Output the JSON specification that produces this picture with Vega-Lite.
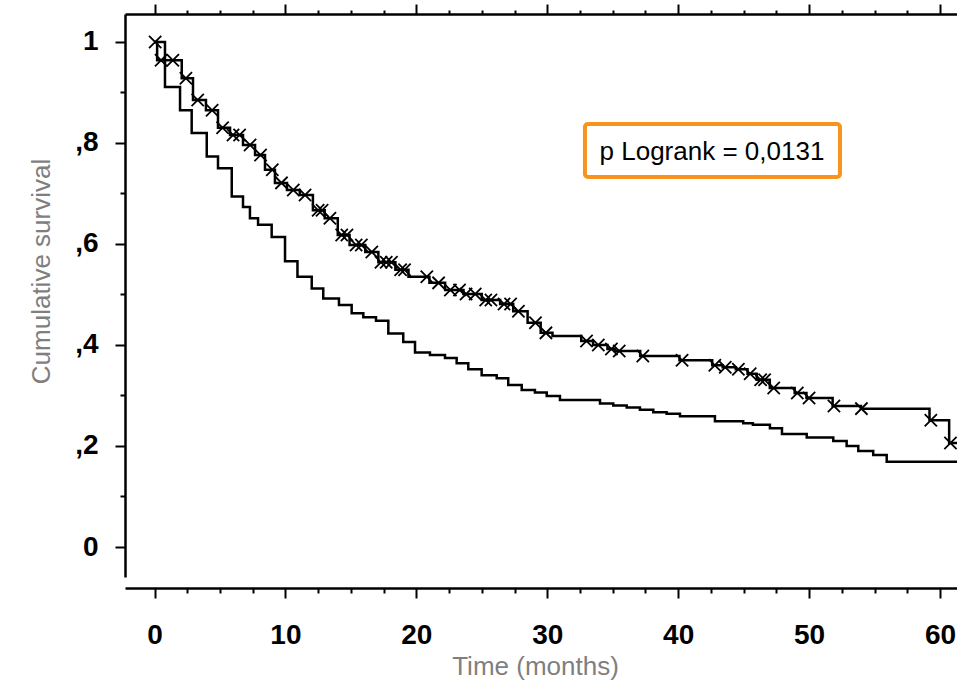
{
  "$schema": "https://vega.github.io/schema/vega-lite/v6.json",
  "width": 832,
  "height": 563,
  "autosize": {"type": "none"},
  "padding": {"left": 125, "top": 14, "right": 0, "bottom": 105},
  "background": "white",
  "config": {"view": {"stroke": null}},
  "datasets": {
    "curves": [
      {"g": "upper", "t": 0, "s": 1.0},
      {"g": "upper", "t": 0.2, "s": 0.964},
      {"g": "upper", "t": 2.08, "s": 0.928},
      {"g": "upper", "t": 2.94, "s": 0.885},
      {"g": "upper", "t": 3.93, "s": 0.865},
      {"g": "upper", "t": 4.85, "s": 0.83},
      {"g": "upper", "t": 5.77, "s": 0.816},
      {"g": "upper", "t": 6.76, "s": 0.796},
      {"g": "upper", "t": 7.68, "s": 0.776},
      {"g": "upper", "t": 8.44, "s": 0.747},
      {"g": "upper", "t": 9.2, "s": 0.721},
      {"g": "upper", "t": 10.12, "s": 0.707},
      {"g": "upper", "t": 11.1, "s": 0.697},
      {"g": "upper", "t": 12.1, "s": 0.667},
      {"g": "upper", "t": 13.0, "s": 0.651},
      {"g": "upper", "t": 14.0, "s": 0.618},
      {"g": "upper", "t": 14.9, "s": 0.598},
      {"g": "upper", "t": 16.1, "s": 0.584},
      {"g": "upper", "t": 17.1, "s": 0.564},
      {"g": "upper", "t": 18.4, "s": 0.549},
      {"g": "upper", "t": 19.4, "s": 0.535},
      {"g": "upper", "t": 21.0, "s": 0.523},
      {"g": "upper", "t": 22.2, "s": 0.509},
      {"g": "upper", "t": 23.6, "s": 0.501},
      {"g": "upper", "t": 25.0, "s": 0.489},
      {"g": "upper", "t": 26.4, "s": 0.481},
      {"g": "upper", "t": 27.4, "s": 0.467},
      {"g": "upper", "t": 28.5, "s": 0.444},
      {"g": "upper", "t": 29.5, "s": 0.424},
      {"g": "upper", "t": 30.4, "s": 0.418},
      {"g": "upper", "t": 32.6, "s": 0.408},
      {"g": "upper", "t": 33.5, "s": 0.4},
      {"g": "upper", "t": 34.6, "s": 0.392},
      {"g": "upper", "t": 35.2, "s": 0.388},
      {"g": "upper", "t": 37.1, "s": 0.378},
      {"g": "upper", "t": 40.1, "s": 0.37},
      {"g": "upper", "t": 42.6, "s": 0.36},
      {"g": "upper", "t": 43.4, "s": 0.356},
      {"g": "upper", "t": 44.4, "s": 0.352},
      {"g": "upper", "t": 45.3, "s": 0.343},
      {"g": "upper", "t": 46.0, "s": 0.331},
      {"g": "upper", "t": 47.0, "s": 0.315},
      {"g": "upper", "t": 48.9, "s": 0.305},
      {"g": "upper", "t": 49.8, "s": 0.295},
      {"g": "upper", "t": 51.8, "s": 0.279},
      {"g": "upper", "t": 53.96, "s": 0.274},
      {"g": "upper", "t": 59.2, "s": 0.251},
      {"g": "upper", "t": 60.7, "s": 0.206},
      {"g": "upper", "t": 61.6, "s": 0.206},
      {"g": "lower", "t": 0, "s": 1.0},
      {"g": "lower", "t": 0.8, "s": 0.911},
      {"g": "lower", "t": 1.95, "s": 0.865},
      {"g": "lower", "t": 2.84, "s": 0.82},
      {"g": "lower", "t": 3.99, "s": 0.773},
      {"g": "lower", "t": 4.85, "s": 0.75},
      {"g": "lower", "t": 5.9, "s": 0.694},
      {"g": "lower", "t": 6.76, "s": 0.673},
      {"g": "lower", "t": 7.29, "s": 0.651},
      {"g": "lower", "t": 7.91, "s": 0.638},
      {"g": "lower", "t": 8.95, "s": 0.614},
      {"g": "lower", "t": 9.97, "s": 0.566},
      {"g": "lower", "t": 10.92, "s": 0.535},
      {"g": "lower", "t": 12.01, "s": 0.512},
      {"g": "lower", "t": 12.89, "s": 0.492},
      {"g": "lower", "t": 14.09, "s": 0.479},
      {"g": "lower", "t": 15.06, "s": 0.463},
      {"g": "lower", "t": 15.95, "s": 0.455},
      {"g": "lower", "t": 16.92, "s": 0.448},
      {"g": "lower", "t": 17.86, "s": 0.423},
      {"g": "lower", "t": 19.0, "s": 0.406},
      {"g": "lower", "t": 19.9, "s": 0.385},
      {"g": "lower", "t": 21.04, "s": 0.38},
      {"g": "lower", "t": 22.19, "s": 0.374},
      {"g": "lower", "t": 23.08, "s": 0.364},
      {"g": "lower", "t": 23.97, "s": 0.352},
      {"g": "lower", "t": 24.99, "s": 0.34},
      {"g": "lower", "t": 26.14, "s": 0.334},
      {"g": "lower", "t": 27.02, "s": 0.321},
      {"g": "lower", "t": 28.05, "s": 0.311},
      {"g": "lower", "t": 29.06, "s": 0.306},
      {"g": "lower", "t": 29.96, "s": 0.299},
      {"g": "lower", "t": 30.97, "s": 0.291},
      {"g": "lower", "t": 34.03, "s": 0.284},
      {"g": "lower", "t": 35.04, "s": 0.28},
      {"g": "lower", "t": 36.07, "s": 0.276},
      {"g": "lower", "t": 37.08, "s": 0.272},
      {"g": "lower", "t": 38.1, "s": 0.267},
      {"g": "lower", "t": 39.12, "s": 0.264},
      {"g": "lower", "t": 40.14, "s": 0.259},
      {"g": "lower", "t": 42.81, "s": 0.249},
      {"g": "lower", "t": 44.97, "s": 0.245},
      {"g": "lower", "t": 45.71, "s": 0.242},
      {"g": "lower", "t": 47.01, "s": 0.235},
      {"g": "lower", "t": 47.93, "s": 0.224},
      {"g": "lower", "t": 49.82, "s": 0.217},
      {"g": "lower", "t": 51.85, "s": 0.21},
      {"g": "lower", "t": 52.87, "s": 0.2},
      {"g": "lower", "t": 53.76, "s": 0.19},
      {"g": "lower", "t": 54.9, "s": 0.182},
      {"g": "lower", "t": 55.93, "s": 0.169},
      {"g": "lower", "t": 61.6, "s": 0.169}
    ],
    "censors": [
      {"t": 0.05, "s": 1.0}, {"t": 0.5, "s": 0.964}, {"t": 1.4, "s": 0.964},
      {"t": 2.4, "s": 0.928}, {"t": 3.3, "s": 0.885}, {"t": 4.4, "s": 0.865},
      {"t": 5.2, "s": 0.83}, {"t": 6.0, "s": 0.816}, {"t": 6.5, "s": 0.816},
      {"t": 7.3, "s": 0.796}, {"t": 8.1, "s": 0.776}, {"t": 9.0, "s": 0.747},
      {"t": 9.7, "s": 0.721}, {"t": 10.6, "s": 0.707}, {"t": 11.5, "s": 0.697},
      {"t": 12.5, "s": 0.667}, {"t": 12.8, "s": 0.667}, {"t": 13.4, "s": 0.651},
      {"t": 14.3, "s": 0.618}, {"t": 14.7, "s": 0.618}, {"t": 15.4, "s": 0.598},
      {"t": 15.8, "s": 0.598}, {"t": 16.6, "s": 0.584}, {"t": 17.3, "s": 0.564},
      {"t": 17.7, "s": 0.564}, {"t": 18.1, "s": 0.564}, {"t": 18.8, "s": 0.549},
      {"t": 19.1, "s": 0.549}, {"t": 20.8, "s": 0.535}, {"t": 21.7, "s": 0.523},
      {"t": 22.6, "s": 0.509}, {"t": 23.3, "s": 0.509}, {"t": 23.8, "s": 0.501},
      {"t": 24.5, "s": 0.501}, {"t": 25.3, "s": 0.489}, {"t": 25.7, "s": 0.489},
      {"t": 26.7, "s": 0.481}, {"t": 27.2, "s": 0.481}, {"t": 27.8, "s": 0.467},
      {"t": 29.1, "s": 0.444}, {"t": 29.9, "s": 0.424}, {"t": 33.0, "s": 0.408},
      {"t": 33.9, "s": 0.4}, {"t": 34.9, "s": 0.392}, {"t": 35.5, "s": 0.388},
      {"t": 37.3, "s": 0.378}, {"t": 40.3, "s": 0.37}, {"t": 42.8, "s": 0.36},
      {"t": 43.6, "s": 0.356}, {"t": 44.6, "s": 0.352}, {"t": 45.5, "s": 0.343},
      {"t": 46.3, "s": 0.331}, {"t": 46.6, "s": 0.331}, {"t": 47.3, "s": 0.315},
      {"t": 49.1, "s": 0.305}, {"t": 50.0, "s": 0.295}, {"t": 51.9, "s": 0.279},
      {"t": 54.0, "s": 0.274}, {"t": 59.3, "s": 0.251}, {"t": 60.8, "s": 0.206}
    ]
  },
  "layer": [
    {
      "data": {"name": "curves"},
      "mark": {"type": "line", "interpolate": "step-after", "color": "black", "strokeWidth": 2.5, "clip": true},
      "encoding": {
        "x": {
          "field": "t", "type": "quantitative",
          "scale": {"domain": [-2.254, 61.3], "nice": false, "zero": false},
          "axis": {
            "orient": "bottom", "offset": 11,
            "values": [0, 2.5, 5, 7.5, 10, 12.5, 15, 17.5, 20, 22.5, 25, 27.5, 30, 32.5, 35, 37.5, 40, 42.5, 45, 47.5, 50, 52.5, 55, 57.5, 60],
            "labelExpr": "datum.value % 10 === 0 ? datum.label : ''",
            "labelOverlap": false, "labelFlush": false,
            "labelFont": "Liberation Sans", "labelFontWeight": "bold", "labelFontSize": 28, "labelColor": "black",
            "labelPadding": 23,
            "tickColor": "black", "tickWidth": 2,
            "tickSize": {"condition": {"test": "datum.value % 10 === 0", "value": 10}, "value": 5},
            "domainColor": "black", "domainWidth": 2.5, "grid": false,
            "title": "Time (months)", "titleFont": "Liberation Sans", "titleFontSize": 26, "titleFontWeight": "normal",
            "titleColor": "#7f7f7f", "titleX": 410, "titleY": 65, "titleAlign": "center", "titleBaseline": "top"
          }
        },
        "y": {
          "field": "s", "type": "quantitative",
          "scale": {"domain": [-0.0594, 1.0554], "nice": false, "zero": false},
          "axis": {
            "orient": "left",
            "values": [0, 0.1, 0.2, 0.3, 0.4, 0.5, 0.6, 0.7, 0.8, 0.9, 1],
            "labelExpr": "abs(datum.value - 1) < 0.001 ? '1' : (abs(datum.value) < 0.001 ? '0' : (round(datum.value * 10) % 2 === 0 ? ',' + round(datum.value * 10) : ''))",
            "labelOverlap": false, "labelFlush": false,
            "labelFont": "Liberation Sans", "labelFontWeight": "bold", "labelFontSize": 28, "labelColor": "black",
            "labelPadding": 17,
            "tickColor": "black", "tickWidth": 2,
            "tickSize": {"condition": {"test": "round(datum.value * 10) % 2 === 0", "value": 10}, "value": 5},
            "domainColor": "black", "domainWidth": 2.5, "grid": false,
            "title": "Cumulative survival", "titleFont": "Liberation Sans", "titleFontSize": 26, "titleFontWeight": "normal",
            "titleColor": "#7f7f7f", "titleAngle": -90, "titleX": -76, "titleY": 257, "titleAlign": "center", "titleBaseline": "alphabetic"
          }
        },
        "detail": {"field": "g", "type": "nominal"}
      }
    },
    {
      "data": {"name": "censors"},
      "mark": {"type": "point", "shape": "M-1,-1L1,1M-1,1L1,-1", "filled": false, "color": "black", "strokeWidth": 1.8, "size": 150, "opacity": 1, "clip": true},
      "encoding": {
        "x": {
          "field": "t", "type": "quantitative",
          "axis": {
            "orient": "top",
            "values": [0, 2.5, 5, 7.5, 10, 12.5, 15, 17.5, 20, 22.5, 25, 27.5, 30, 32.5, 35, 37.5, 40, 42.5, 45, 47.5, 50, 52.5, 55, 57.5, 60],
            "labels": false,
            "tickColor": "black", "tickWidth": 2,
            "tickSize": {"condition": {"test": "datum.value % 10 === 0", "value": 10}, "value": 4},
            "domainColor": "black", "domainWidth": 2.5, "grid": false, "title": null
          }
        },
        "y": {"field": "s", "type": "quantitative", "axis": null}
      }
    },
    {
      "data": {"values": [{"label": "p Logrank = 0,0131"}]},
      "mark": {"type": "rect", "fill": "white", "stroke": "#F7941D", "strokeWidth": 4, "cornerRadius": 3},
      "encoding": {
        "x": {"datum": 32.88, "type": "quantitative", "axis": null},
        "x2": {"datum": 52.36},
        "y": {"datum": 0.8376, "type": "quantitative", "axis": null},
        "y2": {"datum": 0.7327}
      }
    },
    {
      "data": {"values": [{"label": "p Logrank = 0,0131"}]},
      "mark": {"type": "text", "font": "Liberation Sans", "fontSize": 26, "color": "black", "align": "center", "baseline": "middle"},
      "encoding": {
        "x": {"datum": 42.58, "type": "quantitative", "axis": null},
        "y": {"datum": 0.782, "type": "quantitative", "axis": null},
        "text": {"field": "label", "type": "nominal"}
      }
    }
  ],
  "resolve": {"axis": {"x": "independent", "y": "independent"}}
}
